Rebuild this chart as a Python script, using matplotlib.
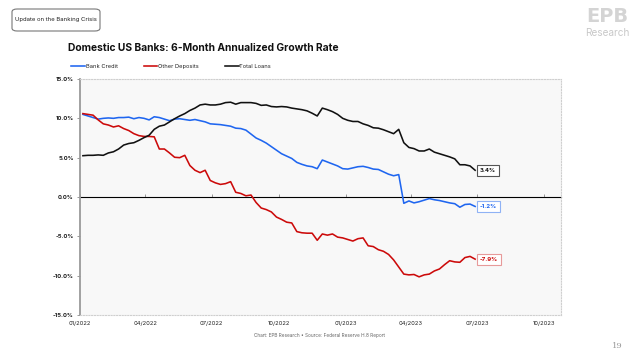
import matplotlib
matplotlib.use("Agg")
import matplotlib.pyplot as plt
import matplotlib.dates as mdates
from matplotlib.patches import FancyBboxPatch
import numpy as np
import pandas as pd

plt.rcParams['font.family'] = ['Inter', 'DejaVu Sans']

dates = pd.date_range("2022-01-05", "2023-06-28", freq="7D")

bank_credit = [10.5, 10.3, 10.1, 9.9, 10.0, 10.05, 10.0, 10.1, 10.1, 10.15,
               9.95, 10.1, 10.0, 9.8, 10.2, 10.1, 9.9, 9.7, 9.9, 9.95,
               9.85, 9.75, 9.85, 9.7, 9.55, 9.3, 9.25, 9.2, 9.1, 9.0,
               8.75, 8.7, 8.5, 8.0, 7.5, 7.2, 6.85, 6.4, 5.95, 5.5,
               5.2, 4.9, 4.4, 4.15, 3.95, 3.85, 3.6, 4.7, 4.45, 4.2,
               3.95, 3.6, 3.55, 3.7, 3.85, 3.9, 3.75, 3.55, 3.5, 3.2,
               2.9, 2.7, 2.85, -0.8, -0.5, -0.75, -0.6, -0.4, -0.2, -0.35,
               -0.45, -0.6, -0.75, -0.85, -1.3, -0.95, -0.9, -1.2]

other_deposits = [10.6, 10.5, 10.4, 9.8, 9.3, 9.15, 8.9, 9.05, 8.7, 8.45,
                  8.05, 7.8, 7.7, 7.7, 7.65, 6.1, 6.1, 5.6, 5.05, 5.0,
                  5.3, 4.0, 3.4, 3.1, 3.4, 2.1, 1.8, 1.6, 1.7, 1.95,
                  0.6, 0.45, 0.15, 0.25, -0.7, -1.4, -1.6, -1.9, -2.55, -2.85,
                  -3.2, -3.3, -4.4, -4.55, -4.6, -4.6, -5.5, -4.7, -4.85, -4.7,
                  -5.1, -5.2, -5.4, -5.6, -5.3, -5.2, -6.2, -6.3, -6.7, -6.9,
                  -7.3, -8.0, -8.9, -9.8, -9.9, -9.85, -10.15, -9.9, -9.8, -9.4,
                  -9.15, -8.6, -8.1, -8.25, -8.3, -7.7, -7.55, -7.9]

total_loans = [5.25, 5.3, 5.3, 5.35, 5.3, 5.6, 5.75, 6.1, 6.6, 6.8,
               6.9, 7.2, 7.55, 7.85, 8.6, 9.0, 9.15, 9.55, 9.95, 10.3,
               10.6, 11.0, 11.3, 11.7, 11.8, 11.7, 11.7, 11.8, 12.0, 12.05,
               11.8, 12.0, 12.0, 12.0, 11.9, 11.65, 11.7, 11.5, 11.45, 11.5,
               11.45, 11.3, 11.2, 11.1, 10.95, 10.65, 10.3, 11.3, 11.1, 10.85,
               10.5, 10.0, 9.75, 9.6, 9.6, 9.3, 9.1, 8.8, 8.75, 8.55,
               8.3, 8.05, 8.6, 6.9, 6.3, 6.15, 5.85, 5.85, 6.1, 5.7,
               5.5, 5.3, 5.1, 4.85, 4.1, 4.1, 3.95, 3.4]

series_names = ["Bank Credit", "Other Deposits", "Total Loans"]
series_colors = ["#1f66f0", "#cc0a0a", "#111111"]
label_edge = ["#8fb2f5", "#e79a9a", "#555555"]

yticks = [15, 10, 5, 0, -5, -10, -15]
ytick_labels = ["15.0%", "10.0%", "5.0%", "0.0%", "-5.0%", "-10.0%", "-15.0%"]
xtick_dates = pd.to_datetime(["2022-01-01", "2022-04-01", "2022-07-01", "2022-10-01",
                              "2023-01-01", "2023-04-01", "2023-07-01", "2023-10-01"])
xtick_labels = ["01/2022", "04/2022", "07/2022", "10/2022",
                "01/2023", "04/2023", "07/2023", "10/2023"]

fig = plt.figure(figsize=(6.4, 3.6), dpi=100)
fig.patch.set_facecolor("white")
ax = fig.add_axes([80/640, 1-315/360, (561-80)/640, (315-79)/360])
ax.set_facecolor("#f8f8f8")

all_series = [bank_credit, other_deposits, total_loans]
for vals, name, col in zip(all_series, series_names, series_colors):
    ax.plot(dates, vals, color=col, lw=1.15, label=name, solid_joinstyle="round")

ax.set_ylim(-15, 15)
ax.set_xlim(pd.Timestamp("2022-01-01"), pd.Timestamp("2023-10-24"))
ax.set_yticks(yticks)
ax.set_yticklabels(ytick_labels, fontsize=4.2, fontweight="bold", color="#222222")
ax.set_xticks(xtick_dates)
ax.set_xticklabels(xtick_labels, fontsize=4.2, color="#222222")
ax.tick_params(axis="x", length=0, pad=4)
ax.tick_params(axis="y", length=2.5, width=0.6, color="#888888", pad=2)

for s in ["top", "right", "bottom"]:
    ax.spines[s].set_linestyle((0, (1, 1.5)))
    ax.spines[s].set_color("#cfcfcf")
    ax.spines[s].set_linewidth(0.8)
ax.spines["left"].set_color("#9a9a9a")
ax.spines["left"].set_linewidth(1.3)

# zero axis with ticks
sec = ax.secondary_xaxis(0.5)
sec.set_xticks(xtick_dates)
sec.set_xticklabels([])
sec.tick_params(axis="x", length=2, width=0.6, color="#888888", direction="out")
sec.spines["bottom"].set_color("#9a9a9a")
sec.spines["bottom"].set_linewidth(1.2)

# end labels
for vals, col, ec in zip(all_series, series_colors, label_edge):
    ax.annotate(f"{vals[-1]:.1f}%", xy=(dates[-1], vals[-1]), xytext=(3.5, 0),
                textcoords="offset points", ha="left", va="center",
                fontsize=4.3, fontweight="bold", color=col,
                bbox=dict(boxstyle="square,pad=0.5", fc="white", ec=ec, lw=0.8))

# legend
leg = fig.legend(loc="upper left", bbox_to_anchor=(69/640, 1-62/360), ncol=3,
                 frameon=False, fontsize=4.1, handlelength=2.4, handletextpad=0.1,
                 columnspacing=4.6, borderaxespad=0)
for t in leg.get_texts():
    t.set_color("#222222")

# title
fig.text(68/640, 1-48/360, "Domestic US Banks: 6-Month Annualized Growth Rate",
         fontsize=7.4, fontweight="bold", color="#111111", va="center", ha="left")

# top-left box
fig.text(56/640, 1-20/360, "Update on the Banking Crisis", fontsize=4.3,
         ha="center", va="center", color="#222222")
box = FancyBboxPatch((12/640, 1-31/360), 88/640, 22/360,
                     boxstyle="round,pad=0,rounding_size=0.008",
                     transform=fig.transFigure, fc="none", ec="#777777", lw=0.8)
fig.patches.append(box)

# logo
fig.text(607/640, 1-16/360, "EPB", fontsize=14, fontweight="bold", color="#d4d4d4",
         ha="center", va="center", family="DejaVu Sans")
fig.text(607/640, 1-33/360, "Research", fontsize=7.2, color="#c8c8c8",
         ha="center", va="center")

# source
fig.text(320/640, 1-336/360, "Chart: EPB Research \u2022 Source: Federal Reserve H.8 Report",
         fontsize=3.4, color="#666666", ha="center", va="center")
fig.text(617/640, 1-346/360, "19", fontsize=6, color="#999999", ha="center", va="center",
         family="DejaVu Serif")

fig.savefig("out.png", dpi=100)
